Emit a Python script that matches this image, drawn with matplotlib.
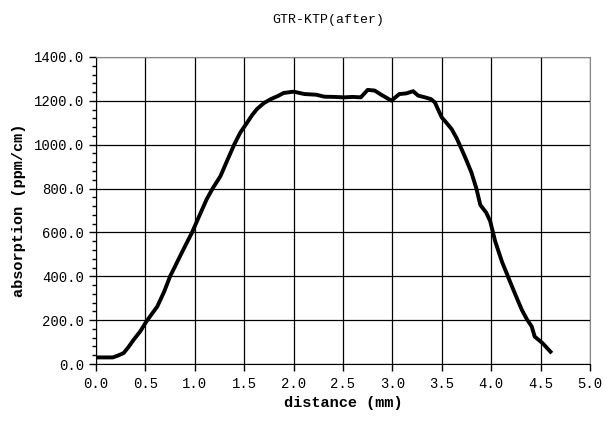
import numpy as np
import matplotlib
matplotlib.use("Agg")
import matplotlib.pyplot as plt
from matplotlib.ticker import MultipleLocator, FormatStrFormatter

# curve (distance in mm, absorption in ppm/cm)
distance = [0.00, 0.08, 0.17, 0.22, 0.28, 0.33, 0.38, 0.45, 0.51, 0.56, 0.62,
            0.69, 0.75, 0.80, 0.85, 0.91, 0.97, 1.05, 1.12, 1.18, 1.26, 1.33,
            1.40, 1.46, 1.53, 1.58, 1.63, 1.70, 1.77, 1.84, 1.90, 2.00, 2.11,
            2.23, 2.31, 2.41, 2.51, 2.60, 2.68, 2.75, 2.82, 2.89, 2.99, 3.07,
            3.14, 3.21, 3.26, 3.33, 3.39, 3.43, 3.46, 3.50, 3.53, 3.60, 3.65,
            3.70, 3.75, 3.80, 3.85, 3.89, 3.95, 3.99, 4.04, 4.11, 4.16, 4.21,
            4.26, 4.31, 4.36, 4.41, 4.44, 4.52, 4.60]
absorption = [30, 30, 30, 38, 50, 78, 110, 150, 194, 225, 262,
              330, 400, 445, 491, 545, 598, 680, 751, 800, 857, 930,
              1002, 1055, 1101, 1135, 1163, 1190, 1208, 1222, 1236, 1242, 1231,
              1228, 1219, 1218, 1216, 1218, 1216, 1250, 1247, 1227, 1201, 1231,
              1234, 1244, 1224, 1216, 1208, 1193, 1163, 1124, 1109, 1071, 1030,
              980, 928, 873, 800, 725, 690, 651, 560, 465, 410, 354,
              300, 247, 205, 171, 125, 95, 56]

plt.rcParams.update({
    "font.family": ["Liberation Mono", "DejaVu Sans Mono"],
    "font.size": 9,
})

fig = plt.figure(figsize=(6.12, 4.22), dpi=100)
ax = fig.add_axes([96 / 612, 1 - 364 / 422, 494 / 612, 307 / 422])

ax.plot(distance, absorption, color="black", lw=2.8, solid_joinstyle="round")

ax.set_xlim(0, 5.0)
ax.set_ylim(0, 1400)
ax.xaxis.set_major_locator(MultipleLocator(0.5))
ax.yaxis.set_major_locator(MultipleLocator(200))
ax.yaxis.set_minor_locator(MultipleLocator(40))
ax.xaxis.set_major_formatter(FormatStrFormatter("%.1f"))
ax.yaxis.set_major_formatter(FormatStrFormatter("%.1f"))
ax.tick_params(axis="both", which="major", direction="out", length=5,
               width=1, color="black", labelsize=10)
ax.tick_params(axis="y", which="minor", direction="out", length=3, width=1)
ax.tick_params(axis="x", pad=4)
ax.grid(True, which="major", color="black", lw=0.9)

ax.spines["left"].set_color("black")
ax.spines["bottom"].set_color("black")
ax.spines["top"].set_color("#888888")
ax.spines["right"].set_color("#888888")

ax.set_xlabel("distance (mm)", fontweight="bold", fontsize=11, labelpad=4)
ax.set_ylabel("absorption (ppm/cm)", fontweight="bold", fontsize=11, labelpad=6)
fig.text(328 / 612, 1 - 20 / 422, "GTR-KTP(after)", ha="center", va="center",
         fontsize=9.5)

fig.savefig("out.png", dpi=100, facecolor="white")
